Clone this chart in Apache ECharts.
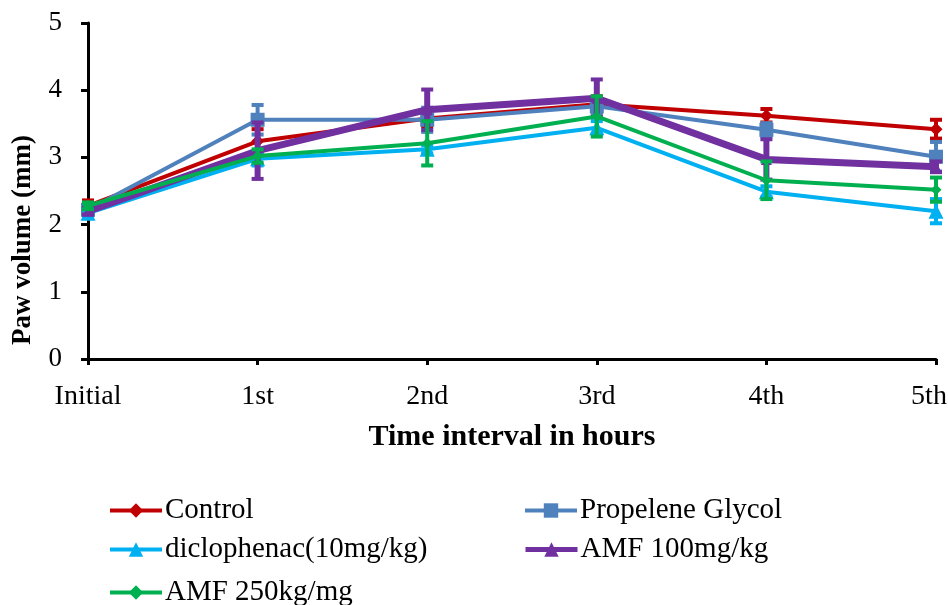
<!DOCTYPE html>
<html>
<head>
<meta charset="utf-8">
<style>
  html, body { margin: 0; padding: 0; background: #fff; overflow: hidden; }
  #chart { width: 948px; height: 605px; }
</style>
<script src="https://cdn.jsdelivr.net/npm/echarts@6/dist/echarts.min.js"></script>
</head>
<body>
<div id="chart"></div>
<script>
// Paw volume (mm) per time point, mean and error (±)
const categories = ['Initial', '1st', '2nd', '3rd', '4th', '5th'];
const yTicks = [0, 1, 2, 3, 4, 5];

const controlValues    = [2.28, 3.24, 3.58, 3.79, 3.62, 3.42];
const propyleneValues  = [2.22, 3.56, 3.56, 3.76, 3.41, 3.01];
const diclofenacValues = [2.17, 2.98, 3.12, 3.44, 2.49, 2.20];
const amf100Values     = [2.20, 3.10, 3.71, 3.88, 2.97, 2.86];
const amf250Values     = [2.28, 3.02, 3.21, 3.61, 2.66, 2.52];

const controlErr    = [0.08, 0.18, 0.12, 0.12, 0.10, 0.14];
const propyleneErr  = [0.05, 0.22, 0.18, 0.12, 0.10, 0.22];
const diclofenacErr = [0.05, 0.10, 0.06, 0.10, 0.08, 0.18];
const amf100Err     = [0.05, 0.42, 0.30, 0.28, 0.30, 0.08];
const amf250Err     = [0.05, 0.10, 0.33, 0.30, 0.28, 0.18];

const FONT = 'Liberation Serif';

const groups = [
  { name: 'Control', values: controlValues, err: controlErr, color: '#C00000', symbol: 'diamond', size: 13, width: 4, errW: 4 },
  { name: 'Propelene Glycol', values: propyleneValues, err: propyleneErr, color: '#4F81BD', symbol: 'rect', size: 14, width: 4, errW: 4 },
  { name: 'diclophenac(10mg/kg)', values: diclofenacValues, err: diclofenacErr, color: '#00B0F0', symbol: 'triangle', size: 15, width: 4, errW: 4 },
  { name: 'AMF 100mg/kg', values: amf100Values, err: amf100Err, color: '#7030A0', symbol: 'triangle', size: 11, width: 7, errW: 6 },
  { name: 'AMF 250kg/mg', values: amf250Values, err: amf250Err, color: '#00B050', symbol: 'diamond', size: 11, width: 4, errW: 4 }
];

// vertical error bar with short caps at both ends
function errorBarSeries(g, z) {
  const data = g.values.map((v, i) => [i, v - g.err[i], v + g.err[i]]);
  return {
    type: 'custom',
    name: g.name + ' error',
    z: z,
    silent: true,
    data: data,
    renderItem: function (params, api) {
      const lo = api.coord([api.value(0), api.value(1)]);
      const hi = api.coord([api.value(0), api.value(2)]);
      const w = 6;
      const capStyle = { stroke: g.color, lineWidth: 4 };
      return {
        type: 'group',
        children: [
          { type: 'line', shape: { x1: lo[0], y1: lo[1], x2: hi[0], y2: hi[1] }, style: { stroke: g.color, lineWidth: g.errW } },
          { type: 'line', shape: { x1: lo[0] - w, y1: lo[1], x2: lo[0] + w, y2: lo[1] }, style: capStyle },
          { type: 'line', shape: { x1: hi[0] - w, y1: hi[1], x2: hi[0] + w, y2: hi[1] }, style: capStyle }
        ]
      };
    }
  };
}

const series = [];
groups.forEach((g, k) => {
  series.push(errorBarSeries(g, 2 + k * 2));
  series.push({
    type: 'line',
    name: g.name,
    z: 3 + k * 2,
    data: g.values,
    symbol: g.symbol,
    symbolSize: g.size,
    showAllSymbol: true,
    color: g.color,
    lineStyle: { color: g.color, width: g.width },
    itemStyle: { color: g.color },
    emphasis: { disabled: true },
    animation: false
  });
});

// two-column legend: one entry per box, placed row by row
const legendCols = [108, 523];
const legendRows = [511, 550, 593];
const legendSlots = [
  ['Control', 0, 0, 4],
  ['Propelene Glycol', 1, 0, 4],
  ['diclophenac(10mg/kg)', 0, 1, 4],
  ['AMF 100mg/kg', 1, 1, 5],
  ['AMF 250kg/mg', 0, 2, 4]
];
const legends = legendSlots.map(([name, c, r, lw]) => ({
  orient: 'horizontal',
  left: legendCols[c],
  top: legendRows[r] - 15,
  itemWidth: 52,
  itemHeight: 18,
  padding: 0,
  selectedMode: false,
  lineStyle: { width: lw },
  textStyle: { fontFamily: FONT, fontSize: 29, color: '#000', padding: [0, 0, 0, -2] },
  data: [name]
}));

const chart = echarts.init(document.getElementById('chart'), null, { renderer: 'canvas' });
chart.setOption({
  animation: false,
  backgroundColor: '#fff',
  grid: { left: 88, right: 12, top: 23, bottom: 246, containLabel: false, outerBoundsMode: 'none' },
  xAxis: {
    type: 'category',
    data: categories,
    boundaryGap: false,
    name: 'Time interval in hours',
    nameLocation: 'middle',
    nameGap: 63,
    nameTextStyle: { fontFamily: FONT, fontSize: 30, fontWeight: 'bold', color: '#000' },
    axisLine: { lineStyle: { color: '#000', width: 3 } },
    axisTick: { show: true, alignWithLabel: true, length: 6, lineStyle: { color: '#000', width: 3 } },
    axisLabel: {
      fontFamily: FONT, fontSize: 28, color: '#000', margin: 24,
      formatter: (v, i) => i === categories.length - 1 ? '{last|' + v + '}' : v,
      rich: { last: { fontFamily: FONT, fontSize: 28, color: '#000', padding: [0, 14, 0, 0] } }
    },
    splitLine: { show: false }
  },
  yAxis: {
    type: 'value',
    min: yTicks[0],
    max: yTicks[yTicks.length - 1],
    interval: 1,
    axisLine: { show: true, lineStyle: { color: '#000', width: 3 } },
    axisTick: { show: true, length: 7, lineStyle: { color: '#000', width: 3 } },
    axisLabel: { fontFamily: FONT, fontSize: 27, color: '#000', margin: 26 },
    splitLine: { show: false }
  },
  graphic: [{
    type: 'text',
    x: 23,
    y: 240,
    rotation: Math.PI / 2,
    style: {
      text: 'Paw volume (mm)',
      fontFamily: FONT,
      fontSize: 27,
      fontWeight: 'bold',
      fill: '#000',
      align: 'center',
      verticalAlign: 'middle'
    }
  }],
  legend: legends,
  series: series
});
</script>
</body>
</html>
